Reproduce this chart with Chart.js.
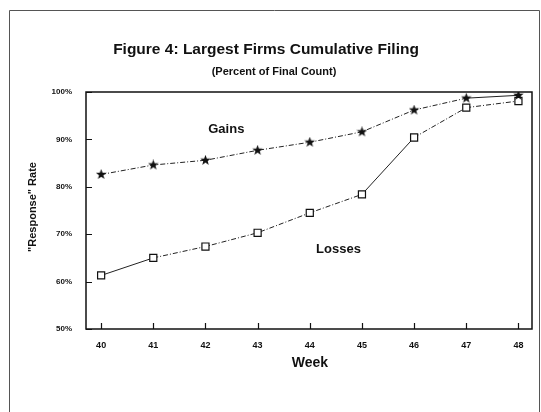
<!DOCTYPE html>
<html>
<head>
<meta charset="utf-8">
<script src="https://cdn.jsdelivr.net/npm/chart.js@4/dist/chart.umd.min.js"></script>
<style>
  html, body { margin: 0; padding: 0; background: #fff; }
  #wrap { position: relative; width: 541px; height: 412px; }
</style>
</head>
<body>
<div id="wrap"><canvas id="filingChart" width="541" height="412"></canvas></div>
<script>
// values
const weeks = [40, 41, 42, 43, 44, 45, 46, 47, 48];
const gains = [82.6, 84.6, 85.6, 87.7, 89.4, 91.6, 96.2, 98.7, 99.3];
const losses = [61.3, 65.0, 67.4, 70.3, 74.5, 78.4, 90.4, 96.7, 98.1];
const yTicks = [50, 60, 70, 80, 90, 100];

const titleText = 'Figure 4: Largest Firms Cumulative Filing';
const subtitleText = '(Percent of Final Count)';
const yTitleText = '"Response" Rate';
const xTitleText = 'Week';

const FONT = '"Liberation Sans", Arial, sans-serif';

// filled star marker
function makeStar(size) {
    const c = document.createElement('canvas');
    c.width = size; c.height = size;
    const g = c.getContext('2d');
    const cx = size / 2, cy = size / 2, R = size / 2, r = R * 0.42;
    g.beginPath();
    for (let i = 0; i < 10; i++) {
        const a = -Math.PI / 2 + i * Math.PI / 5;
        const rad = i % 2 === 0 ? R : r;
        g.lineTo(cx + rad * Math.cos(a), cy + rad * Math.sin(a));
    }
    g.closePath();
    g.fillStyle = '#111';
    g.fill();
    return c;
}
const starImg = makeStar(11);

const dashDot = [5, 2, 1, 2];

// frame, plot box, inward ticks and text
const decorPlugin = {
    id: 'decor',
    beforeDraw(chart) {
        const ctx = chart.ctx;
        ctx.save();
        ctx.strokeStyle = '#555';
        ctx.lineWidth = 1;
        ctx.beginPath();
        ctx.moveTo(9.5, 412);
        ctx.lineTo(9.5, 10.5);
        ctx.lineTo(539.5, 10.5);
        ctx.lineTo(539.5, 412);
        ctx.stroke();
        ctx.restore();
    },
    afterDatasetsDraw(chart) {
        const ctx = chart.ctx;
        const a = chart.chartArea;
        const xs = chart.scales.x, ys = chart.scales.y;
        ctx.save();
        ctx.strokeStyle = '#111';
        ctx.lineWidth = 1.5;
        ctx.strokeRect(a.left, a.top, a.right - a.left, a.bottom - a.top);
        ctx.lineWidth = 1.2;
        ctx.beginPath();
        yTicks.forEach(v => {
            const y = Math.round(ys.getPixelForValue(v)) + 0.5;
            ctx.moveTo(a.left, y); ctx.lineTo(a.left + 6, y);
        });
        weeks.forEach(v => {
            const x = Math.round(xs.getPixelForValue(v)) + 0.5;
            ctx.moveTo(x, a.bottom); ctx.lineTo(x, a.bottom - 6);
        });
        ctx.stroke();

        ctx.fillStyle = '#111';
        ctx.textAlign = 'center';
        ctx.textBaseline = 'middle';
        ctx.font = 'bold 15.5px ' + FONT;
        ctx.fillText(titleText, 266, 50);
        ctx.font = 'bold 11px ' + FONT;
        ctx.fillText(subtitleText, 274, 72);
        ctx.font = 'bold 14px ' + FONT;
        ctx.fillText(xTitleText, 310, 363);
        ctx.font = 'bold 13px ' + FONT;
        ctx.fillText('Gains', xs.getPixelForValue(42.4), 129);
        ctx.fillText('Losses', xs.getPixelForValue(44.55), 249);

        ctx.translate(33, 207);
        ctx.rotate(-Math.PI / 2);
        ctx.font = 'bold 11px ' + FONT;
        ctx.fillText(yTitleText, 0, 0);
        ctx.restore();
    }
};

const ctx = document.getElementById('filingChart').getContext('2d');

const filingChart = new Chart(ctx, {
    type: 'line',
    data: {
        datasets: [{
            label: 'Gains',
            data: weeks.map((w, i) => ({ x: w, y: gains[i] })),
            borderColor: '#222',
            borderWidth: 1,
            borderDash: dashDot,
            pointStyle: starImg,
            tension: 0,
            segment: {
                borderDash: c => c.p0DataIndex === 7 ? [] : dashDot
            }
        }, {
            label: 'Losses',
            data: weeks.map((w, i) => ({ x: w, y: losses[i] })),
            borderColor: '#222',
            borderWidth: 1,
            borderDash: dashDot,
            pointStyle: 'rect',
            pointRadius: 5,
            pointBorderWidth: 1.2,
            pointBorderColor: '#111',
            pointBackgroundColor: '#fff',
            tension: 0,
            segment: {
                borderDash: c => (c.p0DataIndex === 0 || c.p0DataIndex === 5) ? [] : dashDot
            }
        }]
    },
    options: {
        responsive: false,
        animation: false,
        layout: { padding: { left: 0, top: 92, right: 9, bottom: 0 } },
        plugins: {
            legend: { display: false },
            tooltip: { enabled: false }
        },
        scales: {
            x: {
                type: 'linear',
                min: 39.71,
                max: 48.26,
                afterBuildTicks: scale => { scale.ticks = weeks.map(v => ({ value: v })); },
                afterFit: scale => { scale.height = 83; },
                grid: { display: false, drawTicks: false },
                border: { display: false },
                ticks: {
                    padding: 11,
                    color: '#111',
                    font: { family: FONT, size: 9, weight: 'bold' },
                    callback: v => String(v)
                }
            },
            y: {
                min: 50,
                max: 100,
                afterBuildTicks: scale => { scale.ticks = yTicks.map(v => ({ value: v })); },
                afterFit: scale => { scale.width = 86; },
                grid: { display: false, drawTicks: false },
                border: { display: false },
                ticks: {
                    padding: 14,
                    color: '#111',
                    font: { family: FONT, size: 8, weight: 'bold' },
                    callback: v => v + '%'
                }
            }
        }
    },
    plugins: [decorPlugin]
});
</script>
</body>
</html>
